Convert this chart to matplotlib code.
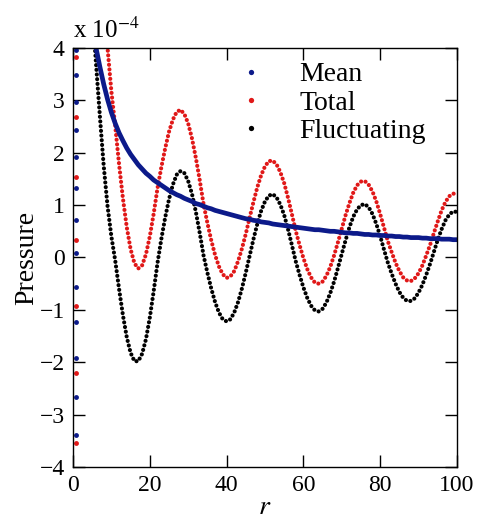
import numpy as np
import matplotlib
matplotlib.use("Agg")
import matplotlib.pyplot as plt
from matplotlib.lines import Line2D

plt.rcParams['font.family'] = ['Liberation Serif', 'DejaVu Serif']
plt.rcParams['mathtext.fontset'] = 'stix'

# radial positions of the curves
r = np.arange(5, 101)

mean = [4.50, 4.00, 3.64, 3.31, 3.02, 2.77, 2.56, 2.38, 2.23, 2.09,
        1.97, 1.87, 1.77, 1.69, 1.61, 1.55, 1.48, 1.43, 1.38, 1.33,
        1.28, 1.24, 1.20, 1.17, 1.13, 1.10, 1.07, 1.03, 1.01, 0.98,
        0.95, 0.93, 0.90, 0.88, 0.86, 0.84, 0.82, 0.80, 0.78, 0.76,
        0.74, 0.73, 0.71, 0.70, 0.68, 0.67, 0.66, 0.64, 0.63, 0.62,
        0.61, 0.60, 0.59, 0.58, 0.57, 0.56, 0.55, 0.54, 0.53, 0.53,
        0.52, 0.51, 0.50, 0.50, 0.49, 0.48, 0.47, 0.47, 0.46, 0.46,
        0.45, 0.44, 0.44, 0.43, 0.43, 0.42, 0.42, 0.41, 0.41, 0.40,
        0.40, 0.39, 0.39, 0.38, 0.38, 0.38, 0.37, 0.37, 0.36, 0.36,
        0.36, 0.35, 0.35, 0.35, 0.34, 0.34]

total = [9.25, 7.70, 6.34, 5.06, 4.00, 3.17, 2.51,
         1.78, 1.13, 0.58, 0.16, -0.11, -0.21, -0.15, 0.06, 0.40, 0.83,
         1.32, 1.72, 2.08, 2.40, 2.63, 2.78, 2.82, 2.74, 2.56, 2.27,
         1.90, 1.48, 1.02, 0.66, 0.33, 0.05, -0.17, -0.32, -0.39, -0.36,
         -0.26, -0.07, 0.17, 0.45, 0.76, 1.06, 1.34, 1.57, 1.74, 1.84,
         1.85, 1.78, 1.63, 1.42, 1.14, 0.83, 0.51, 0.24, -0.01, -0.22,
         -0.38, -0.48, -0.50, -0.46, -0.35, -0.18, 0.04, 0.29, 0.55, 0.81,
         1.04, 1.24, 1.38, 1.45, 1.46, 1.39, 1.26, 1.07, 0.83, 0.57,
         0.31, 0.10, -0.10, -0.26, -0.38, -0.44, -0.45, -0.40, -0.30, -0.15,
         0.04, 0.24, 0.47, 0.69, 0.90, 1.06, 1.17, 1.22, 1.21]

fluct = [4.75, 3.70, 2.70, 1.75, 0.98, 0.40, -0.06,
         -0.60, -1.10, -1.52, -1.82, -1.98, -1.98, -1.84, -1.56, -1.15, -0.65,
         -0.11, 0.35, 0.76, 1.11, 1.39, 1.58, 1.65, 1.61, 1.46, 1.21,
         0.87, 0.47, 0.04, -0.29, -0.59, -0.85, -1.05, -1.18, -1.22, -1.18,
         -1.05, -0.85, -0.59, -0.29, 0.03, 0.35, 0.64, 0.89, 1.07, 1.18,
         1.21, 1.15, 1.01, 0.81, 0.54, 0.24, -0.07, -0.33, -0.57, -0.77,
         -0.92, -1.01, -1.03, -0.98, -0.86, -0.68, -0.46, -0.20, 0.07, 0.33,
         0.58, 0.78, 0.92, 1.00, 1.02, 0.96, 0.83, 0.64, 0.41, 0.15,
         -0.10, -0.31, -0.50, -0.66, -0.77, -0.83, -0.83, -0.78, -0.67, -0.52,
         -0.33, -0.12, 0.11, 0.34, 0.54, 0.71, 0.82, 0.88, 0.87]

# stray points sitting on the r = 0 edge
edge_r = 0.7
edge_mean = [3.96, 3.49, 2.97, 2.44, 1.92, 1.33, 0.72, 0.09, -0.56,
             -1.23, -1.92, -2.66, -3.39]
edge_total = [3.83, 2.68, 1.54, 0.34, -0.92, -2.20, -3.54]

blue = '#0c1a8a'
red = '#e01818'
black = '#000000'

fig = plt.figure(figsize=(4.78, 5.27), dpi=100)
ax = fig.add_axes([0.1527, 0.1139, 0.8033, 0.795])

dots = (0, (0.01, 1.12))
ax.plot(r, fluct, color=black, lw=3.0, linestyle=dots, dash_capstyle='round')
ax.plot(r, total, color=red, lw=3.0, linestyle=dots, dash_capstyle='round')
ax.plot(r, mean, color=blue, lw=3.4, solid_capstyle='round')

ax.plot([edge_r] * len(edge_mean), edge_mean, 'o', color=blue, ms=3.5, mew=0)
ax.plot([edge_r] * len(edge_total), edge_total, 'o', color=red, ms=3.5, mew=0)

ax.set_xlim(0, 100)
ax.set_ylim(-4, 4)
ax.set_xticks([0, 20, 40, 60, 80, 100])
ax.set_yticks([-4, -3, -2, -1, 0, 1, 2, 3, 4])
ax.tick_params(direction='in', length=8.5, width=1, labelsize=17,
               top=True, right=True, pad=6)
for s in ax.spines.values():
    s.set_linewidth(1)

ax.set_xlabel('$r$', fontsize=20, labelpad=-1)
ax.set_ylabel('Pressure', fontsize=20, labelpad=0)
ax.text(0.0, 1.012, 'x 10$^{-4}$', transform=ax.transAxes, fontsize=18,
        ha='left', va='bottom')

handles = [Line2D([], [], marker='o', ls='none', color=c, ms=3.8, mew=0)
           for c in (blue, red, black)]
ax.legend(handles, ['Mean', 'Total', 'Fluctuating'], loc='upper left',
          bbox_to_anchor=(0.39, 1.0), frameon=False, fontsize=20,
          handlelength=1.0, handletextpad=1.25, labelspacing=0.1,
          borderpad=0.0)

fig.savefig('out.png', dpi=100)
